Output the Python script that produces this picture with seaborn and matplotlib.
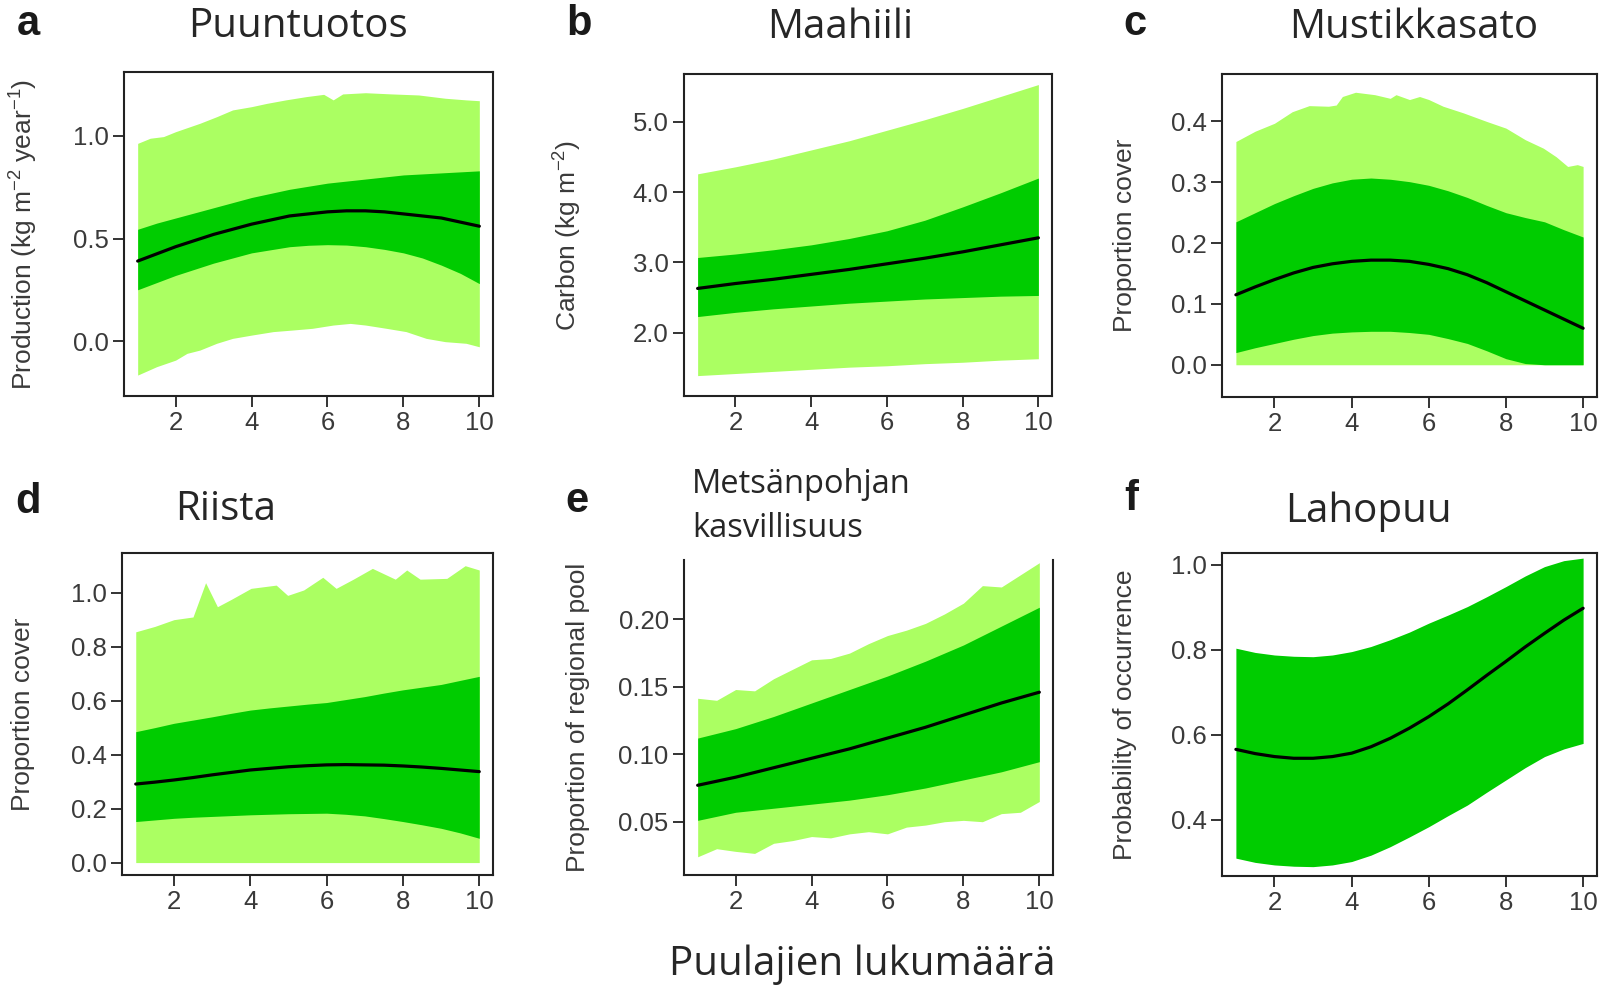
import matplotlib
matplotlib.use("Agg")
import matplotlib.pyplot as plt
import seaborn as sns
import numpy as np

sns.set_style("white")
plt.rcParams['font.family'] = ['Liberation Sans', 'DejaVu Sans']
plt.rcParams['mathtext.fontset'] = 'custom'
plt.rcParams['mathtext.rm'] = 'Liberation Sans'
plt.rcParams['mathtext.it'] = 'Liberation Sans'

LIGHT = '#abff62'
DARK = '#00cc00'
TITLE_FONT = ['Open Sans', 'DejaVu Sans']

# ---------------- data ----------------
x_int = [1, 2, 3, 4, 5, 6, 7, 8, 9, 10]
x_half = [1, 1.5, 2, 2.5, 3, 3.5, 4, 4.5, 5, 5.5, 6, 6.5, 7, 7.5, 8, 8.5, 9, 9.5, 10]

# a  Puuntuotos (production)
a_light_up_x = [1, 1.33, 1.68, 2, 2.64, 3.08, 3.5, 4.0, 4.4, 4.9, 5.44, 5.9, 6.15, 6.4, 7.0, 7.7, 8.4, 9.1, 9.65, 10]
a_light_up = [0.964, 0.989, 0.997, 1.021, 1.062, 1.094, 1.127, 1.143, 1.159, 1.176, 1.192, 1.203, 1.176, 1.205, 1.211, 1.205, 1.200, 1.184, 1.176, 1.172]
a_light_lo_x = [1, 1.5, 2, 2.3, 2.64, 3.08, 3.5, 4.0, 4.57, 5.1, 5.6, 6.15, 6.6, 7.0, 7.55, 8.07, 8.6, 9.1, 9.65, 10]
a_light_lo = [-0.166, -0.125, -0.093, -0.06, -0.044, -0.011, 0.013, 0.029, 0.046, 0.054, 0.062, 0.078, 0.086, 0.078, 0.062, 0.046, 0.013, -0.003, -0.011, -0.028]
a_dark_up = [0.545, 0.575, 0.60, 0.625, 0.65, 0.675, 0.70, 0.72, 0.74, 0.755, 0.77, 0.78, 0.79, 0.80, 0.81, 0.815, 0.82, 0.825, 0.83]
a_dark_lo = [0.25, 0.285, 0.32, 0.35, 0.38, 0.405, 0.43, 0.445, 0.46, 0.467, 0.47, 0.468, 0.46, 0.447, 0.43, 0.405, 0.37, 0.33, 0.28]
a_mean = [0.39, 0.425, 0.46, 0.49, 0.52, 0.545, 0.57, 0.59, 0.61, 0.62, 0.63, 0.635, 0.635, 0.63, 0.62, 0.61, 0.60, 0.58, 0.56]

# b  Maahiili (carbon)
b_light_up = [4.26, 4.36, 4.47, 4.60, 4.73, 4.88, 5.03, 5.19, 5.36, 5.53]
b_light_lo = [1.39, 1.42, 1.45, 1.48, 1.51, 1.53, 1.56, 1.58, 1.61, 1.63]
b_dark_up = [3.07, 3.12, 3.18, 3.25, 3.34, 3.45, 3.60, 3.79, 3.99, 4.20]
b_dark_lo = [2.23, 2.29, 2.34, 2.38, 2.42, 2.45, 2.48, 2.50, 2.52, 2.53]
b_mean = [2.63, 2.70, 2.76, 2.83, 2.90, 2.98, 3.06, 3.15, 3.25, 3.35]

# c  Mustikkasato (bilberry cover)
c_light_up_x = [1, 1.5, 2, 2.46, 2.9, 3.4, 3.6, 3.76, 4.1, 4.6, 5.0, 5.15, 5.5, 5.76, 6.0, 6.37, 6.9, 7.5, 8.0, 8.5, 8.97, 9.3, 9.6, 9.85, 10]
c_light_up = [0.367, 0.384, 0.397, 0.416, 0.426, 0.425, 0.427, 0.441, 0.448, 0.444, 0.438, 0.444, 0.436, 0.441, 0.436, 0.425, 0.414, 0.400, 0.389, 0.370, 0.356, 0.342, 0.326, 0.329, 0.326]
c_light_lo = [0, 0, 0, 0, 0, 0, 0, 0, 0, 0]
c_dark_up = [0.235, 0.25, 0.265, 0.278, 0.29, 0.299, 0.305, 0.307, 0.305, 0.301, 0.295, 0.286, 0.275, 0.262, 0.25, 0.242, 0.235, 0.222, 0.21]
c_dark_lo = [0.02, 0.028, 0.035, 0.042, 0.048, 0.052, 0.054, 0.055, 0.055, 0.053, 0.05, 0.043, 0.035, 0.023, 0.01, 0.002, 0.0, 0.0, 0.0]
c_mean = [0.115, 0.128, 0.14, 0.151, 0.16, 0.166, 0.17, 0.172, 0.172, 0.17, 0.165, 0.158, 0.148, 0.135, 0.12, 0.105, 0.09, 0.075, 0.06]

# d  Riista (game)
d_light_up_x = [1, 1.5, 2, 2.5, 2.83, 3.14, 3.5, 4.02, 4.68, 4.98, 5.4, 5.9, 6.25, 6.7, 7.2, 7.8, 8.1, 8.45, 9.15, 9.63, 10]
d_light_up = [0.855, 0.875, 0.90, 0.91, 1.037, 0.948, 0.975, 1.016, 1.028, 0.99, 1.01, 1.057, 1.016, 1.05, 1.09, 1.05, 1.084, 1.05, 1.053, 1.10, 1.084]
d_light_lo = [0, 0, 0, 0, 0, 0, 0, 0, 0, 0]
d_dark_up = [0.485, 0.50, 0.516, 0.528, 0.54, 0.553, 0.565, 0.573, 0.58, 0.587, 0.593, 0.604, 0.615, 0.628, 0.64, 0.65, 0.66, 0.675, 0.69]
d_dark_lo = [0.152, 0.158, 0.164, 0.168, 0.171, 0.174, 0.177, 0.179, 0.181, 0.182, 0.183, 0.179, 0.173, 0.163, 0.152, 0.14, 0.127, 0.11, 0.09]
d_mean = [0.291, 0.298, 0.306, 0.315, 0.325, 0.334, 0.343, 0.349, 0.355, 0.359, 0.362, 0.363, 0.362, 0.361, 0.358, 0.354, 0.349, 0.343, 0.337]

# e  Metsänpohjan kasvillisuus (understorey plants)
e_light_up = [0.1415, 0.140, 0.148, 0.147, 0.156, 0.163, 0.170, 0.171, 0.175, 0.182, 0.188, 0.192, 0.197, 0.204, 0.212, 0.225, 0.224, 0.233, 0.242]
e_light_lo = [0.024, 0.030, 0.028, 0.0265, 0.034, 0.036, 0.039, 0.038, 0.041, 0.0426, 0.041, 0.046, 0.0475, 0.050, 0.051, 0.050, 0.056, 0.057, 0.065]
e_dark_up = [0.112, 0.119, 0.128, 0.138, 0.148, 0.158, 0.169, 0.181, 0.195, 0.209]
e_dark_lo = [0.051, 0.057, 0.060, 0.063, 0.066, 0.070, 0.075, 0.081, 0.087, 0.0945]
e_mean = [0.077, 0.083, 0.090, 0.097, 0.104, 0.112, 0.120, 0.129, 0.138, 0.146]

# f  Lahopuu (deadwood)
f_dark_up = [0.804, 0.794, 0.788, 0.785, 0.784, 0.788, 0.796, 0.808, 0.824, 0.842, 0.863, 0.882, 0.902, 0.925, 0.949, 0.974, 0.996, 1.01, 1.016]
f_dark_lo = [0.31, 0.30, 0.294, 0.291, 0.29, 0.294, 0.302, 0.317, 0.337, 0.36, 0.384, 0.41, 0.435, 0.465, 0.494, 0.523, 0.549, 0.567, 0.58]
f_mean = [0.566, 0.556, 0.549, 0.545, 0.545, 0.549, 0.557, 0.572, 0.592, 0.616, 0.643, 0.673, 0.706, 0.74, 0.773, 0.807, 0.839, 0.87, 0.898]

titles = ['Puuntuotos', 'Maahiili', 'Mustikkasato', 'Riista', 'Metsänpohjan\nkasvillisuus', 'Lahopuu']
letters = ['a', 'b', 'c', 'd', 'e', 'f']
ylabels = [r'Production (kg m$^{-2}$ year$^{-1}$)', r'Carbon (kg m$^{-2}$)', 'Proportion cover',
           'Proportion cover', 'Proportion of regional pool', 'Probability of occurrence']
xlabel = 'Puulajien lukumäärä'
x_ticks = [2, 4, 6, 8, 10]
y_ticks = [[0.0, 0.5, 1.0], [2.0, 3.0, 4.0, 5.0], [0.0, 0.1, 0.2, 0.3, 0.4],
           [0.0, 0.2, 0.4, 0.6, 0.8, 1.0], [0.05, 0.10, 0.15, 0.20], [0.4, 0.6, 0.8, 1.0]]
y_ticklabels = [['0.0', '0.5', '1.0'], ['2.0', '3.0', '4.0', '5.0'], ['0.0', '0.1', '0.2', '0.3', '0.4'],
                ['0.0', '0.2', '0.4', '0.6', '0.8', '1.0'], ['0.05', '0.10', '0.15', '0.20'], ['0.4', '0.6', '0.8', '1.0']]

# ---------------- layout ----------------
W, H = 1614, 985
fig = plt.figure(figsize=(W / 100, H / 100), dpi=100)

boxes = [(124, 493, 72, 396), (684, 1052, 74, 396), (1222, 1597, 74, 397),
         (122, 493, 553, 875), (684, 1053, 560, 875), (1222, 1597, 553, 876)]
ylims = [(-0.268, 1.312), (1.10, 5.68), (-0.053, 0.478), (-0.046, 1.147), (0.0105, 0.244), (0.268, 1.028)]
ylab_x = [-0.228, -0.272, -0.227, -0.235, -0.255, -0.227]
title_pos = [(298, 37), (840, 38), (1414, 38), (226, 520), (692, 493), (1368, 522)]
letter_pos = [(28, 35), (579, 35), (1135, 35), (28, 513), (577, 512), (1131, 510)]

axes = []
for (l, r, t, b) in boxes:
    ax = fig.add_axes([l / W, 1 - b / H, (r - l) / W, (b - t) / H])
    axes.append(ax)


def band(ax, x, lo, hi, color):
    ax.fill_between(x, lo, hi, color=color, linewidth=0, zorder=1)


def light_band(ax, xu, up, xl, lo):
    xs = sorted(set(list(xu) + list(xl)))
    u = np.interp(xs, xu, up)
    lw = np.interp(xs, xl, lo)
    ax.fill_between(xs, lw, u, color=LIGHT, linewidth=0, zorder=1)


light_band(axes[0], a_light_up_x, a_light_up, a_light_lo_x, a_light_lo)
band(axes[0], x_half, a_dark_lo, a_dark_up, DARK)
sns.lineplot(x=x_half, y=a_mean, ax=axes[0], color='black', linewidth=2.3, zorder=3)

light_band(axes[1], x_int, b_light_up, x_int, b_light_lo)
band(axes[1], x_int, b_dark_lo, b_dark_up, DARK)
sns.lineplot(x=x_int, y=b_mean, ax=axes[1], color='black', linewidth=2.3, zorder=3)

light_band(axes[2], c_light_up_x, c_light_up, x_int, c_light_lo)
band(axes[2], x_half, c_dark_lo, c_dark_up, DARK)
sns.lineplot(x=x_half, y=c_mean, ax=axes[2], color='black', linewidth=2.3, zorder=3)

light_band(axes[3], d_light_up_x, d_light_up, x_int, d_light_lo)
band(axes[3], x_half, d_dark_lo, d_dark_up, DARK)
sns.lineplot(x=x_half, y=d_mean, ax=axes[3], color='black', linewidth=2.3, zorder=3)

light_band(axes[4], x_half, e_light_up, x_half, e_light_lo)
band(axes[4], x_int, e_dark_lo, e_dark_up, DARK)
sns.lineplot(x=x_int, y=e_mean, ax=axes[4], color='black', linewidth=2.3, zorder=3)

band(axes[5], x_half, f_dark_lo, f_dark_up, DARK)
sns.lineplot(x=x_half, y=f_mean, ax=axes[5], color='black', linewidth=2.3, zorder=3)

for i, ax in enumerate(axes):
    ax.set_xlim(0.64, 10.36)
    ax.set_ylim(*ylims[i])
    ax.set_xticks(x_ticks)
    ax.set_xticklabels([str(v) for v in x_ticks])
    ax.set_yticks(y_ticks[i])
    ax.set_yticklabels(y_ticklabels[i])
    ax.tick_params(axis='both', direction='out', length=8, width=1.4, color='#333333',
                   labelsize=18.5, labelcolor='#3a3a3a', pad=3, left=True, bottom=True)
    for s in ax.spines.values():
        s.set_color('#222222')
        s.set_linewidth(1.5)
        s.set_visible(True)
    ax.set_ylabel(ylabels[i], fontsize=19, color='#3a3a3a')
    ax.yaxis.set_label_coords(ylab_x[i], 0.5)
    ax.set_xlabel('')
    ax.set_facecolor('white')

axes[4].spines['top'].set_visible(False)

for i in range(6):
    tx, ty = title_pos[i]
    if i == 4:
        first, second = titles[i].split('\n')
        fig.text(tx / W, 1 - ty / H, first, fontsize=23.5, family=TITLE_FONT, ha='left', va='baseline')
        fig.text(tx / W, 1 - (ty + 44) / H, second, fontsize=23.5, family=TITLE_FONT, ha='left', va='baseline')
    else:
        fig.text(tx / W, 1 - ty / H, titles[i], fontsize=29, family=TITLE_FONT,
                 ha='center', va='baseline')
    lx, ly = letter_pos[i]
    fig.text(lx / W, 1 - ly / H, letters[i], fontsize=30, fontweight='bold',
             ha='center', va='baseline', color='#1a1a1a')

fig.text(862 / W, 1 - 975 / H, xlabel, fontsize=29, family=TITLE_FONT, ha='center', va='baseline')

fig.savefig('out.png', dpi=100, facecolor='white')
